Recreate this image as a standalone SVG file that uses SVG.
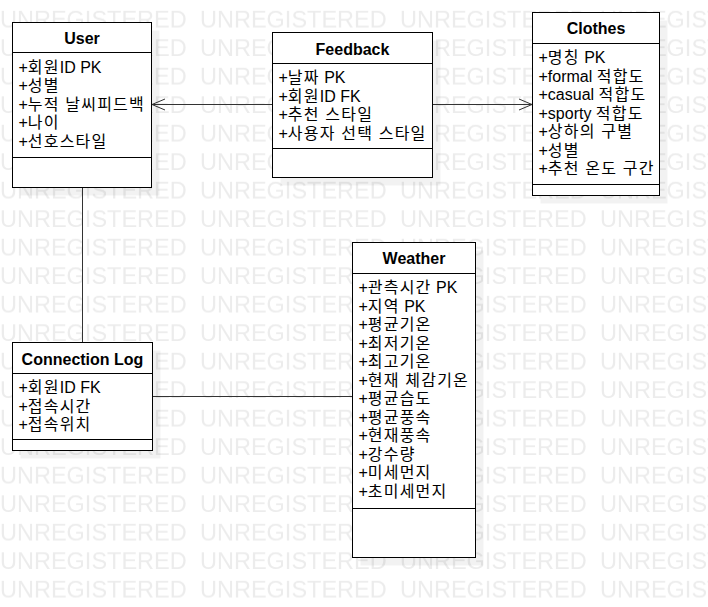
<svg xmlns="http://www.w3.org/2000/svg" width="708" height="607" viewBox="0 0 708 607">
<style>
.wm{font-family:"Liberation Sans",Arial,sans-serif;font-size:23.5px;fill:#ececec}
.box{fill:#fff;stroke:#000;stroke-width:1}
.sep{stroke:#000;stroke-width:1}
.shadow{fill:#000;fill-opacity:0.05}
.title{font-family:"Liberation Sans",Arial,"Noto Sans CJK KR",sans-serif;font-size:16px;font-weight:bold;fill:#000;text-anchor:middle}
.attr{font-family:"Liberation Sans",Arial,"Noto Sans CJK KR",sans-serif;font-size:16px;fill:#000}
.k{letter-spacing:1.2px}
.conn{stroke:#333;stroke-width:1;fill:none}
</style>
<defs>
<pattern id="wmp" patternUnits="userSpaceOnUse" x="0" y="0" width="200" height="28.5">
<text class="wm" x="0" y="28">UNREGISTERED</text>
</pattern>
<marker id="open" markerUnits="userSpaceOnUse" markerWidth="16" markerHeight="14" refX="13.5" refY="6.5" orient="auto" viewBox="0 0 16 14">
<path d="M0.5,1 L13.5,6.5 L0.5,12" fill="none" stroke="#333" stroke-width="1"/>
</marker>
</defs>
<rect width="708" height="607" fill="#fff"/>
<rect width="708" height="607" fill="url(#wmp)"/>

<g id="connectors">
<line class="conn" x1="272.5" y1="104.5" x2="152" y2="104.5" marker-end="url(#open)"/>
<line class="conn" x1="432.5" y1="104.5" x2="532" y2="104.5" marker-end="url(#open)"/>
<line class="conn" x1="82.5" y1="187.5" x2="82.5" y2="342.5"/>
<line class="conn" x1="152.5" y1="396.5" x2="352.5" y2="396.5"/>
</g>

<g id="user">
<rect class="shadow" x="20.5" y="30.5" width="139" height="165"/>
<rect class="box" x="12.5" y="22.5" width="139" height="165"/>
<line class="sep" x1="12.5" y1="52.5" x2="151.5" y2="52.5"/>
<line class="sep" x1="12.5" y1="157.5" x2="151.5" y2="157.5"/>
<text class="title" x="82" y="44">User</text>
<text class="attr" x="18.5" y="72.5">+<tspan class="k">회원</tspan>ID PK</text>
<text class="attr" x="18.5" y="91">+<tspan class="k">성별</tspan></text>
<text class="attr" x="18.5" y="109.5">+<tspan class="k">누적 날씨피드백</tspan></text>
<text class="attr" x="18.5" y="128">+<tspan class="k">나이</tspan></text>
<text class="attr" x="18.5" y="146.5">+<tspan class="k">선호스타일</tspan></text>
</g>

<g id="feedback">
<rect class="shadow" x="280.5" y="40.5" width="160" height="145"/>
<rect class="box" x="272.5" y="32.5" width="160" height="145"/>
<line class="sep" x1="272.5" y1="63.5" x2="432.5" y2="63.5"/>
<line class="sep" x1="272.5" y1="148.5" x2="432.5" y2="148.5"/>
<text class="title" x="352.5" y="54.5">Feedback</text>
<text class="attr" x="278.5" y="83">+<tspan class="k">날짜</tspan> PK</text>
<text class="attr" x="278.5" y="101.5">+<tspan class="k">회원</tspan>ID FK</text>
<text class="attr" x="278.5" y="120">+<tspan class="k">추천 스타일</tspan></text>
<text class="attr" x="278.5" y="138.5">+<tspan class="k">사용자 선택 스타일</tspan></text>
</g>

<g id="clothes">
<rect class="shadow" x="540.5" y="20.5" width="127" height="183"/>
<rect class="box" x="532.5" y="12.5" width="127" height="183"/>
<line class="sep" x1="532.5" y1="43.5" x2="659.5" y2="43.5"/>
<line class="sep" x1="532.5" y1="184.5" x2="659.5" y2="184.5"/>
<text class="title" x="596" y="34">Clothes</text>
<text class="attr" x="538.5" y="63">+<tspan class="k">명칭</tspan> PK</text>
<text class="attr" x="538.5" y="81.5">+formal <tspan class="k">적합도</tspan></text>
<text class="attr" x="538.5" y="100">+casual <tspan class="k">적합도</tspan></text>
<text class="attr" x="538.5" y="118.5">+sporty <tspan class="k">적합도</tspan></text>
<text class="attr" x="538.5" y="137">+<tspan class="k">상하의 구별</tspan></text>
<text class="attr" x="538.5" y="155.5">+<tspan class="k">성별</tspan></text>
<text class="attr" x="538.5" y="174">+<tspan class="k">추천 온도 구간</tspan></text>
</g>

<g id="connection-log">
<rect class="shadow" x="20.5" y="350.5" width="140" height="108"/>
<rect class="box" x="12.5" y="342.5" width="140" height="108"/>
<line class="sep" x1="12.5" y1="373.5" x2="152.5" y2="373.5"/>
<line class="sep" x1="12.5" y1="439.5" x2="152.5" y2="439.5"/>
<text class="title" x="82.5" y="364.5">Connection Log</text>
<text class="attr" x="18.5" y="393">+<tspan class="k">회원</tspan>ID FK</text>
<text class="attr" x="18.5" y="411.5">+<tspan class="k">접속시간</tspan></text>
<text class="attr" x="18.5" y="430">+<tspan class="k">접속위치</tspan></text>
</g>

<g id="weather">
<rect class="shadow" x="360.5" y="250.5" width="123" height="315"/>
<rect class="box" x="352.5" y="242.5" width="123" height="315"/>
<line class="sep" x1="352.5" y1="273.5" x2="475.5" y2="273.5"/>
<line class="sep" x1="352.5" y1="508.5" x2="475.5" y2="508.5"/>
<text class="title" x="414" y="264">Weather</text>
<text class="attr" x="358.5" y="293">+<tspan class="k">관측시간</tspan> PK</text>
<text class="attr" x="358.5" y="311.5">+<tspan class="k">지역</tspan> PK</text>
<text class="attr" x="358.5" y="330">+<tspan class="k">평균기온</tspan></text>
<text class="attr" x="358.5" y="348.5">+<tspan class="k">최저기온</tspan></text>
<text class="attr" x="358.5" y="367">+<tspan class="k">최고기온</tspan></text>
<text class="attr" x="358.5" y="385.5">+<tspan class="k">현재 체감기온</tspan></text>
<text class="attr" x="358.5" y="404">+<tspan class="k">평균습도</tspan></text>
<text class="attr" x="358.5" y="422.5">+<tspan class="k">평균풍속</tspan></text>
<text class="attr" x="358.5" y="441">+<tspan class="k">현재풍속</tspan></text>
<text class="attr" x="358.5" y="459.5">+<tspan class="k">강수량</tspan></text>
<text class="attr" x="358.5" y="478">+<tspan class="k">미세먼지</tspan></text>
<text class="attr" x="358.5" y="496.5">+<tspan class="k">초미세먼지</tspan></text>
</g>
</svg>
